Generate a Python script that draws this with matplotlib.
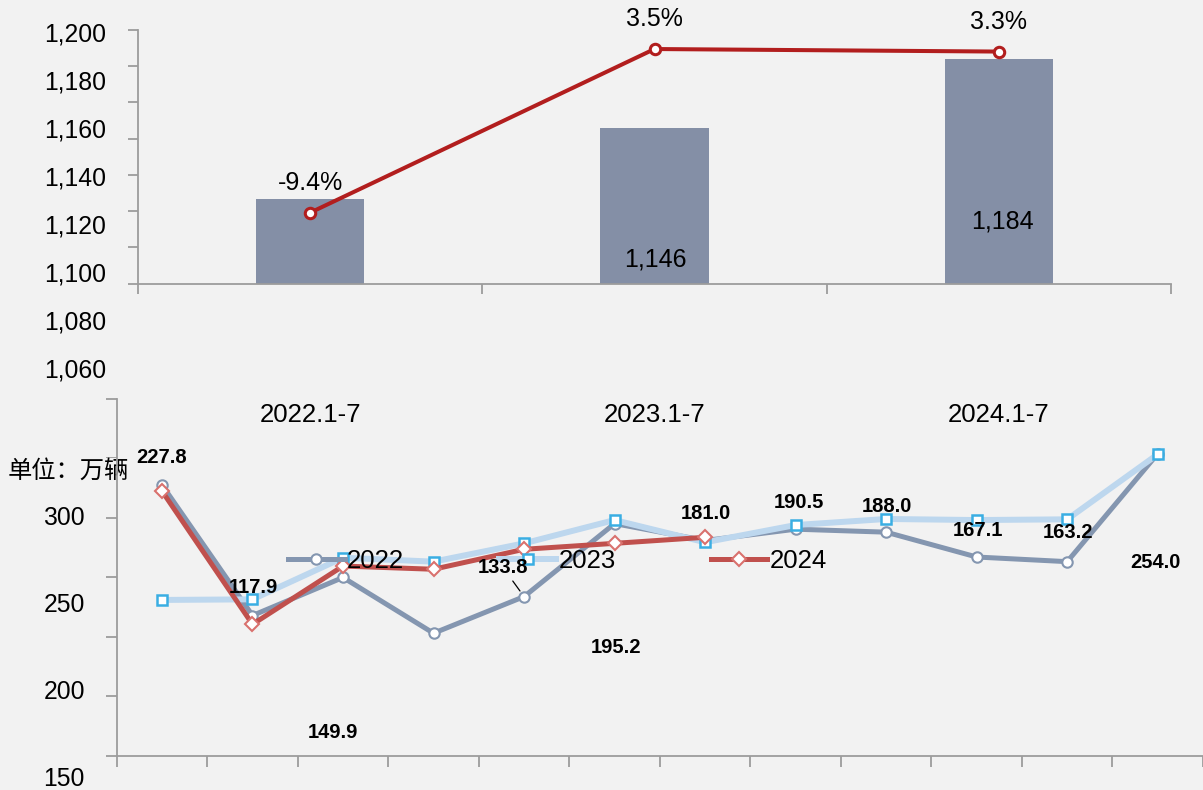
import numpy as np
import matplotlib.pyplot as plt
from matplotlib.ticker import FuncFormatter

plt.rcParams['font.family'] = ['Liberation Sans', 'Noto Sans CJK SC']

BG = '#F2F2F2'
GRID = '#9C9C9C'

# ── Top chart: Jan-Jul totals (bars) and growth rate (line) ──────────────────
periods = ['2022.1-7', '2023.1-7', '2024.1-7']
totals = [1107, 1146, 1184]
growth = [-9.4, 3.5, 3.3]
total_labels = [None, '1,146', '1,184']          # first bar carries no label
total_label_offsets = [None, (1, -132), (4, -163)]  # pixels from bar top

# ── Bottom chart: monthly sales, 万辆 ─────────────────────────────────────────
months = np.arange(1, 13)
sales_2022 = [227.8, 117.9, 149.9, 103.0, 133.8, 195.2, 181.0, 190.5, 188.0, 167.1, 163.2, 254.0]
sales_2023 = [131.0, 131.5, 166.5, 163.2, 178.6, 198.2, 179.5, 194.0, 199.1, 198.2, 198.8, 253.5]
sales_2024 = [222.6, 110.5, 159.5, 156.8, 173.6, 178.6, 183.7]
# data label offsets (pixels) for the 2022 series; None = no label
label_offsets_2022 = [(0, 27), (1, 28), (-10, -155), None, (-21, 29), (1, -124),
                      (1, 27), (3, 27), (1, 26), (1, 27), (1, 29), (-2, -109)]

W, H = 1203, 790


def box(x0, y0, x1, y1):
    """pixel box (top-left origin) -> figure fraction rect"""
    return [x0 / W, 1 - y1 / H, (x1 - x0) / W, (y1 - y0) / H]


def style_spines(ax):
    for s in ('top', 'right'):
        ax.spines[s].set_visible(False)
    for s in ('left', 'bottom'):
        ax.spines[s].set_color(GRID)
        ax.spines[s].set_linewidth(1.3)


fig = plt.figure(figsize=(W / 100, H / 100), dpi=100, facecolor=BG)

# ── Top chart ────────────────────────────────────────────────────────────────
ax_top = fig.add_axes(box(138, 30, 1171, 283.7))
ax_top.set_facecolor('none')
style_spines(ax_top)
x = np.arange(len(periods))
ax_top.bar(x, totals, width=0.314, color='#848FA6', zorder=2)
ax_top.set_xlim(-0.5, len(periods) - 0.5)
ax_top.set_ylim(1060, 1200)
ax_top.set_yticks(range(1060, 1201, 20))
ax_top.set_yticklabels([])
ax_top.set_xticks(np.arange(-0.5, len(periods), 1.0))
ax_top.set_xticklabels([])
ax_top.set_xticks(x, minor=True)
ax_top.set_xticklabels(periods, minor=True)
ax_top.tick_params(axis='both', which='major', length=7.5, width=1.3, color=GRID)
ax_top.tick_params(axis='x', which='minor', length=0, pad=86, labelsize=18.5)

for xi, v, lab, off in zip(x, totals, total_labels, total_label_offsets):
    if lab is None:
        continue
    ax_top.annotate(lab, (xi, v), xytext=off, textcoords='offset pixels',
                    ha='center', va='center', fontsize=18, zorder=5)

ax_g = ax_top.twinx()
ax_g.set_ylim(-15, 5)
ax_g.plot(x, growth, color='#B21E1E', lw=2.9, marker='o', ms=7.5,
          mfc='white', mec='#B21E1E', mew=2.2, zorder=4)
for xi, g in zip(x, growth):
    ax_g.annotate(f'{g:.1f}%', (xi, g), xytext=(0, 30), textcoords='offset pixels',
                  ha='center', va='center', fontsize=18)
ax_g.axis('off')

# y tick labels of the top chart (drawn on their own, spread wider than ticks)
ax_tl = fig.add_axes(box(138, 32.3, 139, 368.3))
ax_tl.set_ylim(1060, 1200)
ax_tl.set_yticks(range(1060, 1201, 20))
ax_tl.yaxis.set_major_formatter(FuncFormatter(lambda v, p: f'{v:,.0f}'))
ax_tl.tick_params(axis='y', length=0, pad=23, labelsize=17.8)
ax_tl.set_xticks([])
ax_tl.set_frame_on(False)

# ── Bottom chart ─────────────────────────────────────────────────────────────
ax = fig.add_axes(box(116.7, 399, 1203, 755.7))
ax.set_facecolor('none')
style_spines(ax)
ax.set_xlim(0.5, 12.5)
ax.set_ylim(0, 300)
ax.set_yticks(range(0, 301, 50))
ax.set_yticklabels([])
ax.set_xticks(np.arange(0.5, 12.6, 1.0))
ax.set_xticklabels([])
ax.tick_params(axis='both', length=8, width=1.3, color=GRID)

ax.plot(months, sales_2022, color='#8496B0', lw=3.6, marker='o', ms=7.5,
        mfc='white', mec='#8496B0', mew=1.5, label='2022', zorder=3)
ax.plot(months, sales_2023, color='#BDD7EE', lw=4.3, marker='s', ms=7.5,
        mfc='white', mec='#3AAEE3', mew=1.8, label='2023', zorder=4)
ax.plot(months[:len(sales_2024)], sales_2024, color='#C0504D', lw=3.6, marker='D', ms=7,
        mfc='white', mec='#D9716E', mew=1.5, label='2024', zorder=5)

for i, (m, v, off) in enumerate(zip(months, sales_2022, label_offsets_2022)):
    if off is None:
        continue
    arrow = None
    if i == 4:
        arrow = dict(arrowstyle='-', color='black', lw=0.9, shrinkA=1, shrinkB=5)
    ax.annotate(f'{v:.1f}', (m, v), xytext=off, textcoords='offset pixels',
                ha='center', va='center', fontsize=14.5, fontweight='bold',
                arrowprops=arrow, zorder=6)

ax.legend(loc='center left', bbox_to_anchor=((288 - 116.7) / 1086.3, (755.7 - 561) / 356.7),
          ncol=3, frameon=False, fontsize=18.5, handlelength=2.2, handletextpad=0.1,
          columnspacing=3.7, borderpad=0, borderaxespad=0)

ax.text(8 / W, 1 - 471 / H, '单位：万辆', transform=fig.transFigure, fontsize=17.5,
        ha='left', va='center', zorder=2,
        bbox=dict(facecolor=BG, edgecolor='none', pad=1))

# y tick labels of the bottom chart
ax_bl = fig.add_axes(box(116.7, 515.7, 117.7, 777))
ax_bl.set_ylim(150, 300)
ax_bl.set_yticks(range(150, 301, 50))
ax_bl.tick_params(axis='y', length=0, pad=23, labelsize=17.8)
ax_bl.set_xticks([])
ax_bl.set_frame_on(False)

fig.savefig('out.png', dpi=100, facecolor=BG)
